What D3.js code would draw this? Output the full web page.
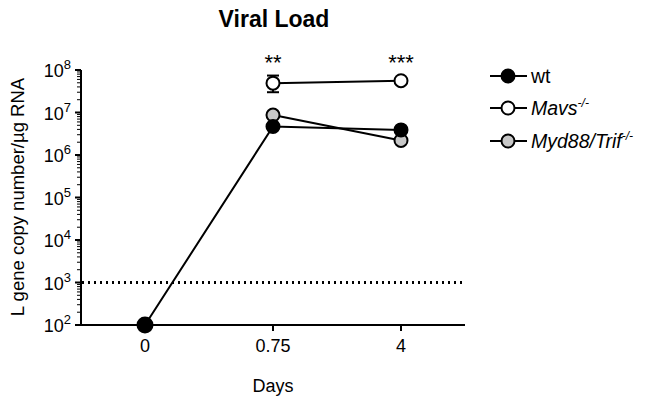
<!DOCTYPE html>
<html><head><meta charset="utf-8">
<script src="https://cdn.jsdelivr.net/npm/d3@7"></script>
<style>body{margin:0;background:#fff}svg{font-family:"Liberation Sans",Arial,Helvetica,sans-serif}</style>
</head><body><svg id="c" width="647" height="405"></svg>
<script>
const days = ["0", "0.75", "4"];
const wt = [100, 4.7e6, 3.9e6];
const mavs = [null, 4.9e7, 5.6e7];
const mavsLo = [null, 3.0e7, 5.1e7];
const mavsHi = [null, 7.4e7, 6.2e7];
const myd = [null, 8.7e6, 2.2e6];
const mydLo = [null, 7.6e6, 1.9e6];
const mydHi = [null, 1.0e7, 2.5e6];
const wtLo = [100, 4.0e6, 3.3e6];
const wtHi = [100, 5.4e6, 4.6e6];
const yTicks = [2, 3, 4, 5, 6, 7, 8];
const limit = 1000;
const stars = ["", "**", "***"];
const seriesNames = ["wt", "Mavs", "Myd88/Trif"];
const seriesFill = ["#000", "#fff", "#c8c8c8"];

const svg = d3.select("#c");
const x = d3.scalePoint().domain(days).range([81, 465]).padding(0.5);
const y = d3.scaleLog().domain([100, 1e8]).range([325, 70]);

// title
svg.append("text").attr("x", 274).attr("y", 27).attr("text-anchor", "middle")
  .attr("font-size", 23).attr("font-weight", "bold").text("Viral Load");

// y axis
const g = svg.append("g");
g.append("line").attr("x1", 81).attr("x2", 81).attr("y1", y(1e8)).attr("y2", y(100)).attr("stroke", "#000").attr("stroke-width", 2);
for (let e = 2; e < 8; e++) {
  for (let m = 2; m <= 9; m++) {
    const v = m * Math.pow(10, e);
    g.append("line").attr("x1", 81).attr("x2", 77).attr("y1", y(v)).attr("y2", y(v)).attr("stroke", "#000").attr("stroke-width", 1);
  }
}
yTicks.forEach(e => {
  const yy = y(Math.pow(10, e));
  g.append("line").attr("x1", 81).attr("x2", 75).attr("y1", yy).attr("y2", yy).attr("stroke", "#000").attr("stroke-width", 2);
  const t = g.append("text").attr("x", 71).attr("y", yy + 7).attr("text-anchor", "end").attr("font-size", 18);
  t.append("tspan").text("10");
  t.append("tspan").attr("dy", -8).attr("font-size", 13).text(e);
});
// x axis
g.append("line").attr("x1", 80).attr("x2", 465).attr("y1", 325).attr("y2", 325).attr("stroke", "#000").attr("stroke-width", 2);
days.forEach(d => {
  g.append("line").attr("x1", x(d)).attr("x2", x(d)).attr("y1", 325).attr("y2", 331).attr("stroke", "#000").attr("stroke-width", 2);
  g.append("text").attr("x", x(d)).attr("y", 352).attr("text-anchor", "middle").attr("font-size", 18).text(d);
});
svg.append("text").attr("x", 273).attr("y", 392).attr("text-anchor", "middle").attr("font-size", 18).text("Days");
svg.append("text").attr("transform", "translate(24,197) rotate(-90)").attr("text-anchor", "middle")
  .attr("font-size", 18.5).text("L gene copy number/\u00b5g RNA");

// dotted limit line
svg.append("line").attr("x1", 82).attr("x2", 465).attr("y1", y(limit)).attr("y2", y(limit))
  .attr("stroke", "#000").attr("stroke-width", 3).attr("stroke-dasharray", "2,4");

// series
const series = [
  {vals: mavs, lo: mavsLo, hi: mavsHi, fill: seriesFill[1]},
  {vals: myd, lo: mydLo, hi: mydHi, fill: seriesFill[2]},
  {vals: wt, lo: wtLo, hi: wtHi, fill: seriesFill[0]}
];
const line = d3.line().defined(d => d.v != null).x(d => x(d.d)).y(d => y(d.v));
series.forEach(s => {
  const pts = days.map((d, i) => ({d, v: s.vals[i], lo: s.lo[i], hi: s.hi[i]}));
  svg.append("path").attr("d", line(pts)).attr("fill", "none").attr("stroke", "#000").attr("stroke-width", 2);
});
series.forEach(s => {
  const pts = days.map((d, i) => ({d, v: s.vals[i], lo: s.lo[i], hi: s.hi[i]})).filter(p => p.v != null);
  pts.forEach(p => {
    const cx = x(p.d);
    svg.append("line").attr("x1", cx).attr("x2", cx).attr("y1", y(p.hi)).attr("y2", y(p.lo)).attr("stroke", "#000").attr("stroke-width", 2);
    [p.hi, p.lo].forEach(v => svg.append("line").attr("x1", cx - 6).attr("x2", cx + 6).attr("y1", y(v)).attr("y2", y(v)).attr("stroke", "#000").attr("stroke-width", 2));
    svg.append("circle").attr("cx", cx).attr("cy", y(p.v)).attr("r", p.d === "0" ? 7.5 : 6.5)
      .attr("fill", s.fill).attr("stroke", "#000").attr("stroke-width", 2);
  });
});
// stars
days.forEach((d, i) => {
  if (stars[i]) svg.append("text").attr("x", x(d)).attr("y", 70).attr("text-anchor", "middle").attr("font-size", 22).text(stars[i]);
});

// legend
const ly = [76, 108, 141];
seriesNames.forEach((n, i) => {
  const lg = svg.append("g");
  lg.append("line").attr("x1", 490).attr("x2", 527).attr("y1", ly[i]).attr("y2", ly[i]).attr("stroke", "#000").attr("stroke-width", 2);
  lg.append("circle").attr("cx", 508).attr("cy", ly[i]).attr("r", 6.5).attr("fill", seriesFill[i]).attr("stroke", "#000").attr("stroke-width", 2);
  const t = lg.append("text").attr("x", 531).attr("y", ly[i] + 7).attr("font-size", 19.5);
  if (i === 0) t.text(n);
  else {
    t.append("tspan").attr("font-style", "italic").text(n);
    t.append("tspan").attr("font-style", "italic").attr("dy", -8).attr("font-size", 12).text("-/-");
  }
});
</script></body></html>
